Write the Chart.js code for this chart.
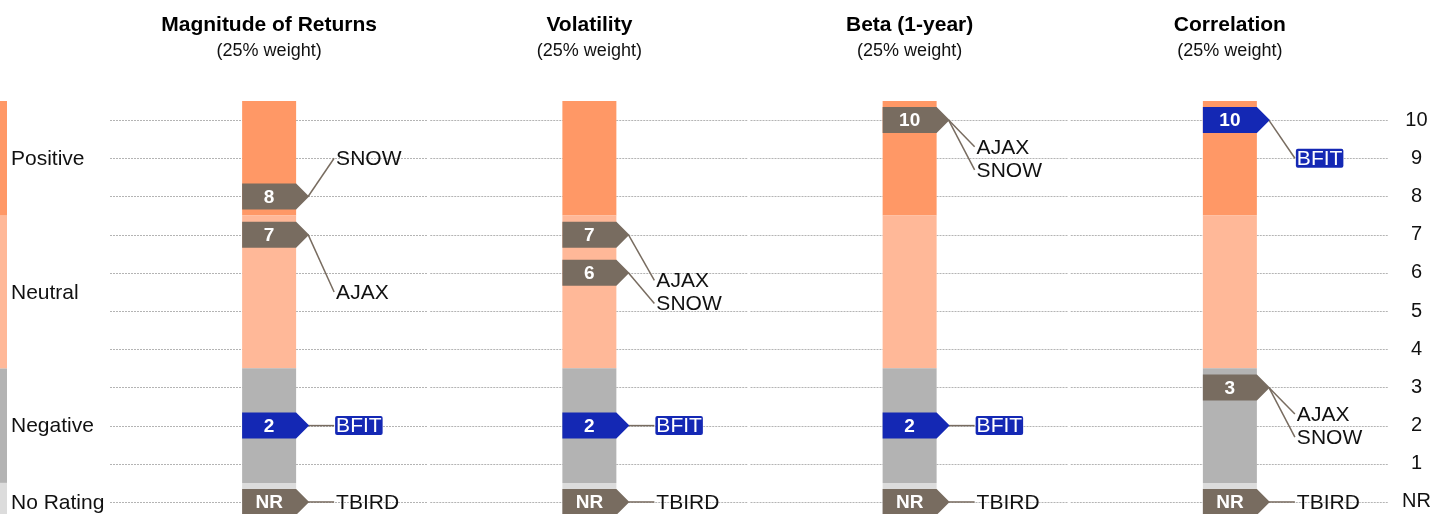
<!DOCTYPE html>
<html>
<head>
  <meta charset="UTF-8">
  <title>Factor ratings</title>
  <script src="https://cdn.jsdelivr.net/npm/chart.js"></script>
  <style>
    body {
      font-family: "Liberation Sans", Arial, sans-serif;
      padding: 0;
      margin: 0;
      background: #fff;
    }
    #chart-container {
      width: 1434px;
      height: 514px;
    }
  </style>
</head>
<body>
  <div id="chart-container">
    <canvas id="myChart"></canvas>
  </div>
  <script>
    const factors = ['Magnitude of Returns', 'Volatility', 'Beta (1-year)', 'Correlation'];
    const weights = ['(25% weight)', '(25% weight)', '(25% weight)', '(25% weight)'];

    // rating bands on the score scale (0 = not rated)
    const bandNames = ['No Rating', 'Negative', 'Neutral', 'Positive'];
    const bandLow = [-0.5, 0.5, 3.5, 7.5];
    const bandHigh = [0.5, 3.5, 7.5, 10.5];
    const bandColors = ['#dcdcdc', '#b3b3b3', '#ffb898', '#ff9866'];

    const companies = ['AJAX', 'SNOW', 'BFIT', 'TBIRD'];
    const scoresAJAX = [7, 7, 10, 3];
    const scoresSNOW = [8, 6, 10, 3];
    const scoresBFIT = [2, 2, 2, 10];
    const scoresTBIRD = ['NR', 'NR', 'NR', 'NR'];
    const highlighted = 'BFIT';

    const tickLabels = ['NR', '1', '2', '3', '4', '5', '6', '7', '8', '9', '10'];

    const allScores = [scoresAJAX, scoresSNOW, scoresBFIT, scoresTBIRD];
    const FONT = '"Liberation Sans", Arial, sans-serif';
    const TAG_GREY = '#786c60';
    const TAG_BLUE = '#1428b4';

    function toValue(s) { return s === 'NR' ? 0 : s; }
    function bandOf(v) {
      for (let b = 0; b < bandNames.length; b++) {
        if (v >= bandLow[b] && v < bandHigh[b]) return b;
      }
      return bandNames.length - 1;
    }

    function drawTag(ctx, left, right, cy, color, text) {
      const h = 13;
      ctx.beginPath();
      ctx.moveTo(left, cy - h);
      ctx.lineTo(right, cy - h);
      ctx.lineTo(right + 13, cy);
      ctx.lineTo(right, cy + h);
      ctx.lineTo(left, cy + h);
      ctx.closePath();
      ctx.fillStyle = color;
      ctx.fill();
      ctx.fillStyle = '#fff';
      ctx.font = 'bold 19px ' + FONT;
      ctx.textAlign = 'center';
      ctx.textBaseline = 'middle';
      ctx.fillText(text, (left + right) / 2, cy + 1);
    }

    const ratingPlugin = {
      id: 'ratings',
      beforeDatasetsDraw(chart) {
        const ctx = chart.ctx;
        const x = chart.scales.x, y = chart.scales.y;
        const area = chart.chartArea;
        const colW = (area.right - area.left) / factors.length;
        ctx.save();

        // dotted grid, broken between columns
        ctx.strokeStyle = '#b4b4b4';
        ctx.lineWidth = 1;
        ctx.setLineDash([2, 1]);
        y.ticks.forEach(t => {
          const py = Math.round(y.getPixelForValue(t.value)) + 0.5;
          factors.forEach((f, c) => {
            const cx = x.getPixelForValue(c);
            ctx.beginPath();
            ctx.moveTo(cx - colW / 2 + 1, py);
            ctx.lineTo(cx + colW / 2 - 2, py);
            ctx.stroke();
          });
        });
        ctx.setLineDash([]);

        // band strip on the left edge + band names
        bandNames.forEach((name, b) => {
          const top = Math.max(area.top, y.getPixelForValue(bandHigh[b]));
          const bot = Math.min(area.bottom, y.getPixelForValue(bandLow[b]));
          ctx.fillStyle = bandColors[b];
          ctx.fillRect(0, top, 7, bot - top);
          ctx.fillStyle = '#111';
          ctx.font = '21px ' + FONT;
          ctx.textAlign = 'left';
          ctx.textBaseline = 'middle';
          ctx.fillText(name, 11, y.getPixelForValue((bandLow[b] + bandHigh[b]) / 2) + 1);
        });

        // column titles
        factors.forEach((f, c) => {
          const cx = x.getPixelForValue(c);
          ctx.fillStyle = '#000';
          ctx.textAlign = 'center';
          ctx.textBaseline = 'middle';
          ctx.font = 'bold 21px ' + FONT;
          ctx.fillText(f, cx, 25);
          ctx.fillStyle = '#111';
          ctx.font = '18px ' + FONT;
          ctx.fillText(weights[c], cx, 51);
        });
        ctx.restore();
      },
      afterDatasetsDraw(chart) {
        const ctx = chart.ctx;
        const y = chart.scales.y;
        const bars = chart.getDatasetMeta(0).data;
        ctx.save();
        factors.forEach((f, c) => {
          const bar = bars[c];
          const left = bar.x - bar.width / 2;
          const right = bar.x + bar.width / 2;
          const tip = right + 13;

          const entries = companies.map((name, k) => ({ name, v: toValue(allScores[k][c]) }));
          const groups = {};
          entries.forEach(e => { (groups[e.v] = groups[e.v] || []).push(e.name); });

          // labels stacked at the middle of their band
          const byBand = {};
          entries.slice().sort((a, b) => b.v - a.v).forEach(e => {
            const b = bandOf(e.v);
            (byBand[b] = byBand[b] || []).push(e);
          });
          const labels = [];
          Object.keys(byBand).forEach(b => {
            const list = byBand[b];
            const mid = y.getPixelForValue((bandLow[b] + bandHigh[b]) / 2);
            list.forEach((e, i) => {
              labels.push({ name: e.name, v: e.v, ly: mid + (i - (list.length - 1) / 2) * 23 });
            });
          });

          // leader lines
          ctx.strokeStyle = TAG_GREY;
          ctx.lineWidth = 1.5;
          labels.forEach(l => {
            ctx.beginPath();
            ctx.moveTo(tip - 1, y.getPixelForValue(l.v));
            ctx.lineTo(tip + 25, l.ly);
            ctx.stroke();
          });

          // tags
          Object.keys(groups).forEach(v => {
            const names = groups[v];
            const color = names.includes(highlighted) ? TAG_BLUE : TAG_GREY;
            drawTag(ctx, left, right, y.getPixelForValue(+v), color, tickLabels[+v]);
          });

          // company names
          ctx.font = '21px ' + FONT;
          ctx.textAlign = 'left';
          ctx.textBaseline = 'middle';
          labels.forEach(l => {
            const tx = tip + 27;
            if (l.name === highlighted) {
              const w = ctx.measureText(l.name).width;
              ctx.fillStyle = TAG_BLUE;
              ctx.beginPath();
              ctx.roundRect(tx - 1, l.ly - 9.5, w + 2, 19, 2);
              ctx.fill();
              ctx.fillStyle = '#fff';
            } else {
              ctx.fillStyle = '#111';
            }
            ctx.fillText(l.name, tx, l.ly + 1);
          });
        });
        ctx.restore();
      }
    };

    const ctx = document.getElementById('myChart').getContext('2d');
    new Chart(ctx, {
      type: 'bar',
      data: {
        labels: factors,
        datasets: bandNames.map((name, b) => ({
          label: name,
          data: factors.map(() => [bandLow[b], bandHigh[b]]),
          backgroundColor: bandColors[b],
          borderWidth: 0,
          grouped: false,
          barPercentage: 0.1686,
          categoryPercentage: 1
        }))
      },
      options: {
        responsive: true,
        maintainAspectRatio: false,
        animation: false,
        events: [],
        layout: { padding: { left: 109, top: 101, right: 0, bottom: 0 } },
        plugins: {
          legend: { display: false },
          tooltip: { enabled: false }
        },
        scales: {
          x: { display: false },
          y: {
            position: 'right',
            min: -0.315,
            max: 10.5,
            bounds: 'data',
            grid: { display: false, drawTicks: false },
            border: { display: false },
            afterBuildTicks: s => { s.ticks = tickLabels.map((t, i) => ({ value: i })); },
            ticks: {
              autoSkip: false,
              padding: 12,
              crossAlign: 'center',
              color: '#111',
              font: { family: FONT, size: 20 },
              callback: (v, i) => tickLabels[i]
            },
            afterFit: s => {
              s.width = 44;
              s.paddingTop = 0;
              s.paddingBottom = 0;
            }
          }
        }
      },
      plugins: [ratingPlugin]
    });
  </script>
</body>
</html>
